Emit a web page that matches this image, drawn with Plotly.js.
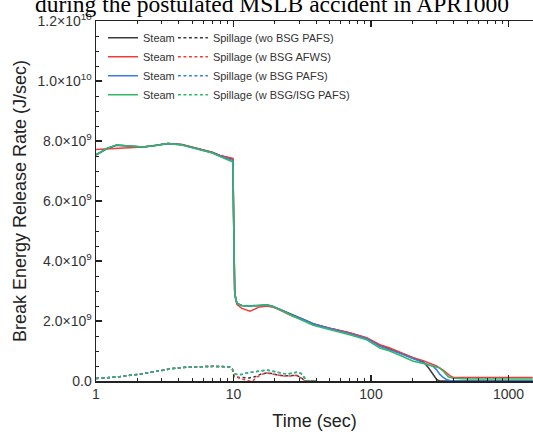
<!DOCTYPE html>
<html>
<head>
<meta charset="utf-8">
<script src="https://cdn.plot.ly/plotly-3.0.1.min.js"></script>
<style>html,body{margin:0;padding:0;background:#fff;}#chart{width:533px;height:432px;}</style>
</head>
<body>
<div id="chart"></div>
<script>
// ---------- data (values in units of 1e9 J/sec) ----------
const caseNames = ["wo BSG PAFS", "w BSG AFWS", "w BSG PAFS", "w BSG/ISG PAFS"];
const caseColors = ["#3a3a3a", "#f03c3c", "#3a7fe0", "#30b868"];

// Steam release, time (s)
const tSteamBlack = [1, 1.2, 1.41, 1.7, 2.2, 2.7, 3.34, 4.2, 5.0, 6.0, 7.0, 7.98, 9.0, 9.42, 9.9, 10.05, 10.2, 10.4, 10.7, 11.5, 13, 15.5, 17.4, 19, 21, 23, 26, 30.5, 34, 38, 45, 53, 70, 93, 116, 137, 162, 203, 240, 261, 282, 300, 315, 330, 400, 600, 1000, 1500];
const vSteamBlack = [7.55, 7.74, 7.86, 7.84, 7.8, 7.85, 7.92, 7.88, 7.8, 7.7, 7.63, 7.52, 7.45, 7.43, 7.4, 5.0, 3.0, 2.7, 2.58, 2.52, 2.5, 2.52, 2.53, 2.5, 2.42, 2.34, 2.23, 2.11, 2.01, 1.91, 1.81, 1.73, 1.6, 1.43, 1.19, 1.07, 0.94, 0.76, 0.64, 0.45, 0.22, 0.05, 0.0, 0.0, 0.0, 0.0, 0.0, 0.0];

const tSteamRed = [1, 1.2, 1.41, 1.7, 2.2, 2.7, 3.34, 4.2, 5.0, 6.0, 7.0, 7.98, 9.0, 9.42, 9.9, 10.05, 10.2, 10.4, 10.6, 11.5, 12.5, 13.2, 14, 15.5, 17.4, 19, 21, 23, 26, 30.5, 34, 38, 45, 53, 70, 93, 116, 137, 162, 203, 240, 282, 299, 335, 354, 374, 396, 450, 700, 1000, 1500];
const vSteamRed = [7.72, 7.74, 7.76, 7.78, 7.8, 7.86, 7.92, 7.88, 7.8, 7.7, 7.62, 7.52, 7.45, 7.43, 7.42, 5.0, 3.0, 2.7, 2.55, 2.42, 2.36, 2.33, 2.38, 2.47, 2.5, 2.47, 2.4, 2.3, 2.19, 2.07, 1.99, 1.9, 1.81, 1.74, 1.61, 1.44, 1.21, 1.1, 0.97, 0.78, 0.68, 0.56, 0.5, 0.36, 0.26, 0.18, 0.12, 0.12, 0.12, 0.12, 0.12];

const tSteamBlue = [1, 1.2, 1.41, 1.7, 2.2, 2.7, 3.34, 4.2, 5.0, 6.0, 7.0, 7.98, 9.0, 9.42, 9.9, 10.05, 10.2, 10.4, 10.7, 11.5, 13, 15.5, 17.4, 19, 21, 23, 26, 30.5, 34, 38, 45, 53, 70, 93, 116, 137, 162, 203, 240, 282, 299, 317, 335, 354, 374, 400, 600, 1000, 1500];
const vSteamBlue = [7.53, 7.75, 7.87, 7.84, 7.8, 7.85, 7.92, 7.87, 7.79, 7.69, 7.61, 7.5, 7.41, 7.38, 7.35, 5.0, 3.0, 2.7, 2.58, 2.52, 2.5, 2.52, 2.53, 2.5, 2.42, 2.34, 2.22, 2.1, 2.0, 1.9, 1.8, 1.72, 1.58, 1.41, 1.16, 1.05, 0.92, 0.74, 0.62, 0.49, 0.38, 0.22, 0.12, 0.05, 0.02, 0.0, 0.0, 0.0, 0.0];

const tSteamGreen = [1, 1.2, 1.41, 1.7, 2.2, 2.7, 3.34, 4.2, 5.0, 6.0, 7.0, 7.98, 9.0, 9.42, 9.9, 10.05, 10.2, 10.4, 10.7, 11.5, 13, 15.5, 17.4, 19, 21, 23, 26, 30.5, 34, 38, 45, 53, 70, 93, 116, 137, 162, 203, 240, 282, 317, 340, 364, 396, 500, 800, 1200, 1500];
const vSteamGreen = [7.53, 7.75, 7.87, 7.84, 7.8, 7.85, 7.92, 7.87, 7.78, 7.68, 7.6, 7.48, 7.38, 7.35, 7.3, 5.0, 3.0, 2.7, 2.58, 2.52, 2.5, 2.52, 2.53, 2.5, 2.42, 2.33, 2.2, 2.07, 1.96, 1.86, 1.76, 1.68, 1.54, 1.37, 1.1, 1.0, 0.86, 0.66, 0.58, 0.49, 0.43, 0.3, 0.14, 0.09, 0.07, 0.07, 0.07, 0.07];

// Spillage release, time (s)
const tSpillBlack = [1, 1.07, 1.5, 2.09, 2.8, 3.65, 4.5, 5.5, 6.38, 7.2, 8.2, 9.0, 9.42, 9.8, 10.1, 11, 12, 13, 14.5, 16, 17.4, 19, 21, 23, 26, 28.8, 31, 33, 40];
const vSpillBlack = [0.08, 0.09, 0.15, 0.23, 0.33, 0.42, 0.46, 0.48, 0.5, 0.49, 0.48, 0.48, 0.46, 0.4, 0.15, 0.12, 0.1, 0.1, 0.15, 0.24, 0.27, 0.25, 0.2, 0.17, 0.18, 0.18, 0.12, 0.0, 0.0];

const tSpillRed = [1, 1.07, 1.5, 2.09, 2.8, 3.65, 4.5, 5.5, 6.38, 7.2, 8.2, 9.0, 9.42, 9.8, 10.1, 11, 12, 13, 13.8, 14.5, 16, 17.4, 19, 21, 23, 26, 28.8, 31, 33, 40];
const vSpillRed = [0.08, 0.09, 0.15, 0.23, 0.33, 0.42, 0.46, 0.48, 0.5, 0.49, 0.48, 0.48, 0.46, 0.4, 0.15, 0.1, 0.04, 0.0, 0.0, 0.1, 0.22, 0.27, 0.24, 0.2, 0.17, 0.17, 0.19, 0.1, 0.0, 0.0];

const tSpillBlue = [1, 1.07, 1.5, 2.09, 2.8, 3.65, 4.5, 5.5, 6.38, 7.2, 8.2, 9.0, 9.42, 9.8, 10.1, 10.6, 11.5, 12.5, 14, 16, 17.4, 19, 21, 23, 25, 27, 28.8, 31, 33, 35, 40];
const vSpillBlue = [0.08, 0.09, 0.15, 0.23, 0.33, 0.42, 0.46, 0.48, 0.5, 0.49, 0.48, 0.48, 0.46, 0.4, 0.25, 0.22, 0.22, 0.27, 0.3, 0.35, 0.36, 0.33, 0.28, 0.25, 0.24, 0.28, 0.29, 0.25, 0.1, 0.0, 0.0];

const tSpillGreen = [1, 1.07, 1.5, 2.09, 2.8, 3.65, 4.5, 5.5, 6.38, 7.2, 8.2, 9.0, 9.42, 9.8, 10.1, 10.6, 11.5, 12.5, 14, 16, 17.4, 19, 21, 23, 25, 27, 28.8, 31, 33, 35, 40];
const vSpillGreen = [0.08, 0.09, 0.15, 0.23, 0.33, 0.42, 0.46, 0.48, 0.5, 0.49, 0.48, 0.48, 0.46, 0.4, 0.25, 0.22, 0.22, 0.27, 0.3, 0.35, 0.37, 0.34, 0.28, 0.25, 0.24, 0.28, 0.29, 0.25, 0.1, 0.0, 0.0];

const yTickVals = [0, 2e9, 4e9, 6e9, 8e9, 1e10, 1.2e10];
const yTickText = ["0.0", "2.0×10<sup>9</sup>", "4.0×10<sup>9</sup>", "6.0×10<sup>9</sup>", "8.0×10<sup>9</sup>", "1.0×10<sup>10</sup>", "1.2×10<sup>10</sup>"];
const titleText = "during the postulated MSLB accident in APR1000";
const xTitle = "Time (sec)";
const yTitle = "Break Energy Release Rate (J/sec)";

// ---------- build traces ----------
const scale = v => v.map(d => d * 1e9);
const steamT = [tSteamBlack, tSteamRed, tSteamBlue, tSteamGreen];
const steamV = [vSteamBlack, vSteamRed, vSteamBlue, vSteamGreen];
const spillT = [tSpillBlack, tSpillRed, tSpillBlue, tSpillGreen];
const spillV = [vSpillBlack, vSpillRed, vSpillBlue, vSpillGreen];

const traces = [];
for (let i = 0; i < 4; i++) {
  traces.push({
    x: steamT[i], y: scale(steamV[i]), type: "scatter", mode: "lines",
    name: "Steam", legend: "legend",
    line: {color: caseColors[i], width: 1.5}
  });
}
for (let i = 0; i < 4; i++) {
  traces.push({
    x: spillT[i], y: scale(spillV[i]), type: "scatter", mode: "lines",
    name: "Spillage (" + caseNames[i] + ")", legend: "legend2",
    line: {color: caseColors[i], width: 1.5, dash: "3px,2.5px"}
  });
}

const sans = "Liberation Sans, Arial, sans-serif";
const tickFont = {family: sans, size: 14, color: "#333"};
const layout = {
  width: 533, height: 432,
  margin: {l: 96, r: 0, t: 21, b: 51, pad: 0},
  paper_bgcolor: "#fff", plot_bgcolor: "#fff",
  showlegend: true,
  xaxis: {
    type: "log", range: [0, Math.log10(1507)],
    tickmode: "linear", tick0: 0, dtick: 1, exponentformat: "none",
    ticks: "inside", ticklen: 6, tickwidth: 1.2, tickcolor: "#222",
    minor: {ticks: "inside", ticklen: 3, tickwidth: 1, tickcolor: "#222", dtick: "D1", showgrid: false},
    showline: true, linecolor: "#222", linewidth: 1.5, mirror: "ticks",
    showgrid: false, zeroline: false,
    tickfont: tickFont,
    title: {text: xTitle, font: {family: sans, size: 18, color: "#222"}, standoff: 13}
  },
  yaxis: {
    range: [0, 1.2e10],
    tickmode: "array", tickvals: yTickVals, ticktext: yTickText,
    ticks: "inside", ticklen: 6, tickwidth: 1.2, tickcolor: "#222",
    minor: {ticks: "inside", ticklen: 3, tickwidth: 1, tickcolor: "#222", dtick: 5e8, tick0: 0, showgrid: false},
    showline: true, linecolor: "#222", linewidth: 1.5, mirror: false,
    showgrid: false, zeroline: false,
    tickfont: tickFont,
    title: {text: yTitle, font: {family: sans, size: 18, color: "#222"}, standoff: 6}
  },
  legend: {
    x: 0.016, y: 0.994, xanchor: "left", yanchor: "top",
    bgcolor: "rgba(0,0,0,0)", borderwidth: 0,
    font: {family: sans, size: 11, color: "#333"},
    tracegroupgap: 0
  },
  legend2: {
    x: 0.176, y: 0.994, xanchor: "left", yanchor: "top",
    bgcolor: "rgba(0,0,0,0)", borderwidth: 0,
    font: {family: sans, size: 11, color: "#333"},
    tracegroupgap: 0
  },
  annotations: [{
    text: titleText, xref: "paper", yref: "paper", x: 0.403, y: 1.006,
    xanchor: "center", yanchor: "bottom", showarrow: false,
    font: {family: "Liberation Serif, Times New Roman, serif", size: 23.5, color: "#000"}
  }]
};

Plotly.newPlot("chart", traces, layout, {staticPlot: true, displayModeBar: false});
</script>
</body>
</html>
